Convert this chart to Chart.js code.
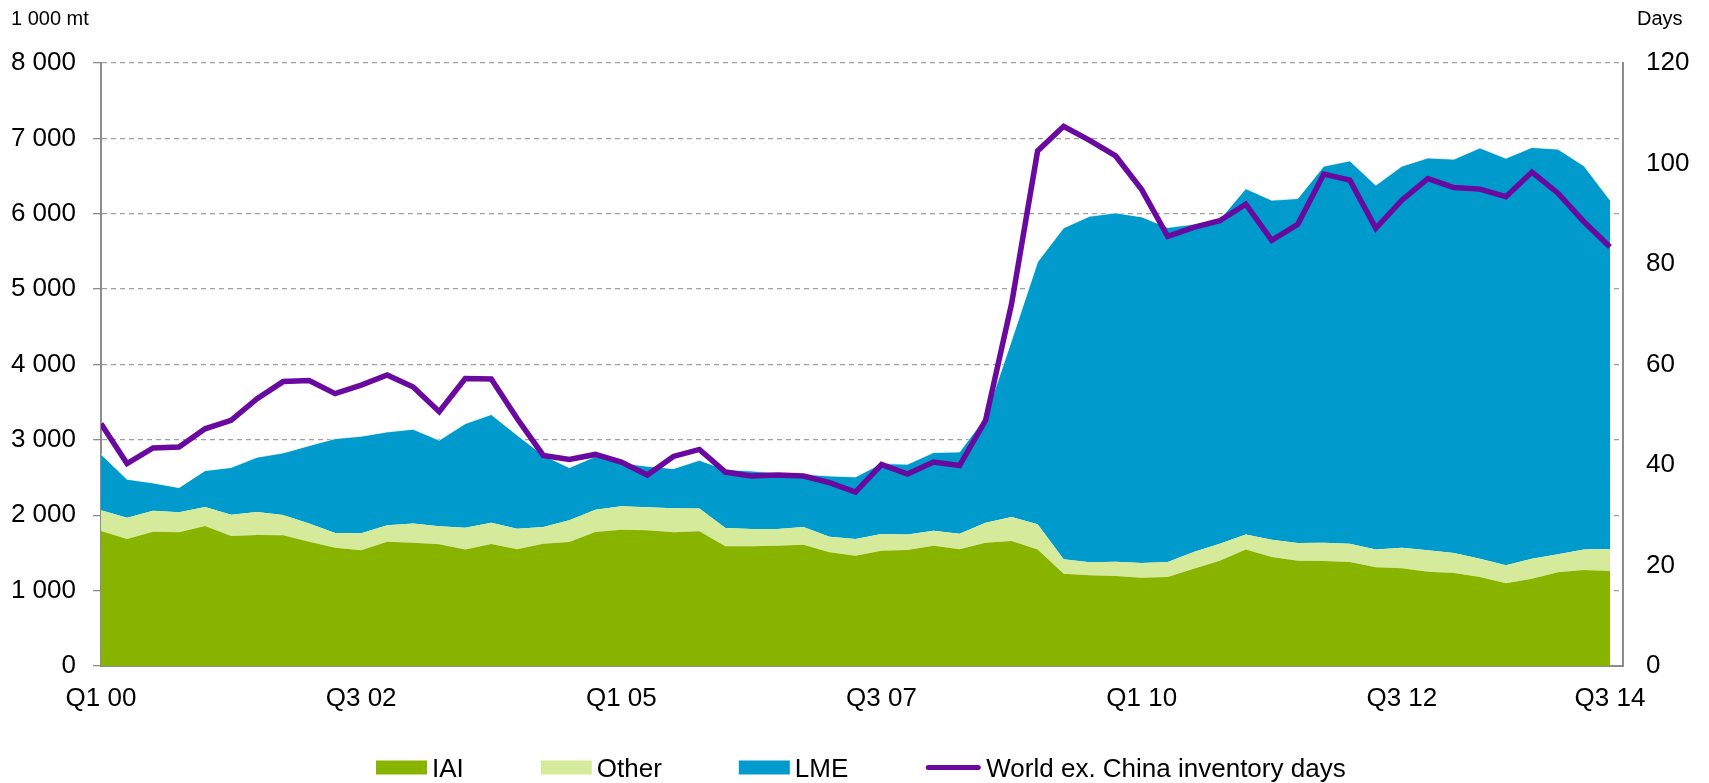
<!DOCTYPE html>
<html><head><meta charset="utf-8">
<script src="https://cdn.jsdelivr.net/npm/chart.js@4.4.1/dist/chart.umd.min.js"></script>
<style>html,body{margin:0;padding:0;background:#fff;} #wrap{width:1709px;height:783px;position:relative;}</style>
</head><body><div id="wrap"><canvas id="c"></canvas></div>
<script>
// ---- categories (quarters) ----
const quarters = [
 "Q1 00","Q2 00","Q3 00","Q4 00","Q1 01","Q2 01","Q3 01","Q4 01",
 "Q1 02","Q2 02","Q3 02","Q4 02","Q1 03","Q2 03","Q3 03","Q4 03",
 "Q1 04","Q2 04","Q3 04","Q4 04","Q1 05","Q2 05","Q3 05","Q4 05",
 "Q1 06","Q2 06","Q3 06","Q4 06","Q1 07","Q2 07","Q3 07","Q4 07",
 "Q1 08","Q2 08","Q3 08","Q4 08","Q1 09","Q2 09","Q3 09","Q4 09",
 "Q1 10","Q2 10","Q3 10","Q4 10","Q1 11","Q2 11","Q3 11","Q4 11",
 "Q1 12","Q2 12","Q3 12","Q4 12","Q1 13","Q2 13","Q3 13","Q4 13",
 "Q1 14","Q2 14","Q3 14"
];
// tick labels shown on the x axis (indices into quarters)
const xTickIndices = [0,10,20,30,40,50,58];
const leftTickValues = [0,1000,2000,3000,4000,5000,6000,7000,8000];
const rightTickValues = [0,20,40,60,80,100,120];

// ---- series values (1 000 mt) ----
const iai = [1791,1685,1782,1774,1858,1725,1738,1734,1650,1570,1535,1650,1636,1614,1544,1619,
 1548,1623,1645,1778,1809,1800,1774,1787,1588,1588,1597,1610,1508,1464,1530,1539,
 1597,1548,1636,1659,1544,1225,1203,1195,1170,1181,1291,1398,1544,1446,1398,1393,
 1380,1309,1296,1252,1234,1181,1097,1159,1243,1274,1261];
const other = [274,283,279,265,252,283,305,270,239,195,225,216,253,239,291,283,
 274,221,288,296,310,305,318,301,243,230,221,234,208,221,221,204,
 199,208,266,318,336,190,172,187,195,199,222,225,199,230,234,243,
 243,235,274,283,265,243,239,265,239,270,291];
const lme = [743,509,367,327,482,624,726,822,1034,1251,1287,1239,1251,1141,1380,1433,
 1239,951,697,706,574,544,526,641,774,769,743,699,805,823,934,933,
 1035,1083,1398,2343,3480,4397,4591,4629,4593,4436,4347,4299,4590,4503,4569,4994,
 5078,4834,5060,5205,5224,5449,5399,5455,5374,5091,4628];
// ---- inventory days (right axis) ----
const invDays = [48.2,40.3,43.4,43.6,47.2,48.9,53.2,56.6,56.8,54.2,55.9,57.9,55.5,50.6,57.2,57.1,
 49.2,41.9,41.1,42.1,40.6,38.0,41.7,43.1,38.6,37.8,38.0,37.8,36.5,34.6,40.1,38.2,
 40.6,39.9,48.9,72.1,102.5,107.4,104.6,101.5,94.8,85.5,87.3,88.6,91.9,84.7,87.9,97.9,
 96.7,87.1,92.7,97.0,95.2,94.9,93.4,98.3,94.1,88.4,83.4];

const COL = {iai:'#88b400', other:'#d6ea9c', lme:'#009bcc', line:'#69099f', axis:'#8c8c8c', grid:'#a0a0a0'};
const FONT = "'Liberation Sans', Arial, sans-serif";

const pts = arr => arr.map((v,i)=>({x:i, y:v}));
const fmt = v => String(v).replace(/\B(?=(\d{3})+(?!\d))/g, ' ');

const overlay = {
  id:'overlay',
  afterDraw(chart){
    const ctx = chart.ctx;
    ctx.save();
    ctx.fillStyle = '#000';
    ctx.textBaseline = 'alphabetic';
    ctx.textAlign = 'left';
    ctx.font = '20px ' + FONT;
    ctx.fillText('1 000 mt', 11, 25);
    ctx.fillText('Days', 1637, 25);
    // legend
    const order = [1,2,3,0];
    ctx.font = '26px ' + FONT;
    let x = 376;
    const cy = 767.5;
    order.forEach(di=>{
      const ds = chart.data.datasets[di];
      if (!ds.fill) {
        ctx.strokeStyle = ds.borderColor;
        ctx.lineWidth = 5;
        ctx.lineCap = 'round';
        ctx.beginPath(); ctx.moveTo(x+3, cy); ctx.lineTo(x+53, cy); ctx.stroke();
        x += 61;
      } else {
        ctx.fillStyle = ds.backgroundColor;
        ctx.fillRect(x, cy-7, 51, 14);
        x += 56;
      }
      ctx.fillStyle = '#000';
      ctx.fillText(ds.label, x, cy + 9.3);
      x += ctx.measureText(ds.label).width + 77;
    });
    ctx.restore();
  }
};

new Chart(document.getElementById('c'), {
  type:'line',
  data:{
    datasets:[
      {label:'World ex. China inventory days', data:pts(invDays), yAxisID:'yR',
       borderColor:COL.line, backgroundColor:COL.line, borderWidth:5.5, pointRadius:0, tension:0, fill:false, order:0},
      {label:'IAI', data:pts(iai), yAxisID:'y', backgroundColor:COL.iai, borderColor:'rgba(0,0,0,0)', borderWidth:0,
       pointRadius:0, tension:0, fill:'origin', order:1},
      {label:'Other', data:pts(other), yAxisID:'y', backgroundColor:COL.other, borderColor:'rgba(0,0,0,0)', borderWidth:0,
       pointRadius:0, tension:0, fill:'-1', order:2},
      {label:'LME', data:pts(lme), yAxisID:'y', backgroundColor:COL.lme, borderColor:'rgba(255,255,255,0.7)', borderWidth:1,
       pointRadius:0, tension:0, fill:'-1', order:3}
    ]
  },
  options:{
    responsive:true, maintainAspectRatio:false, animation:false,
    layout:{padding:{top:63, left:0, right:0, bottom:0}},
    plugins:{legend:{display:false}, tooltip:{enabled:false}},
    scales:{
      x:{type:'linear', min:0, max:58.5,
        afterBuildTicks(s){ s.ticks = xTickIndices.map(v=>({value:v})); },
        afterFit(s){ s.height = 117; },
        grid:{display:false, drawTicks:false},
        border:{display:true, color:COL.axis, width:2},
        ticks:{autoSkip:false, maxRotation:0, padding:17, color:'#000', font:{family:FONT, size:26},
          callback:(v)=> quarters[v] !== undefined ? quarters[v] : ''}
      },
      y:{type:'linear', position:'left', stacked:true, min:0, max:8000,
        afterBuildTicks(s){ s.ticks = leftTickValues.map(v=>({value:v})); },
        afterFit(s){ s.width = 101; },
        grid:{color:(c)=> c.tick && c.tick.value===0 ? 'rgba(0,0,0,0)' : COL.grid, lineWidth:1.3,
          drawTicks:true, tickLength:8, tickColor:COL.axis, tickBorderDash:[], tickWidth:1.3},
        border:{display:true, color:COL.axis, width:2, dash:[5,4]},
        ticks:{padding:17, color:'#000', font:{family:FONT, size:26}, callback:(v)=>fmt(v)}
      },
      yR:{type:'linear', position:'right', min:0, max:120,
        afterBuildTicks(s){ s.ticks = rightTickValues.map(v=>({value:v})); },
        afterFit(s){ s.width = 86; },
        grid:{display:false, drawTicks:false},
        border:{display:true, color:COL.axis, width:2},
        ticks:{padding:23, color:'#000', font:{family:FONT, size:26}}
      }
    }
  },
  plugins:[overlay]
});
</script></body></html>
